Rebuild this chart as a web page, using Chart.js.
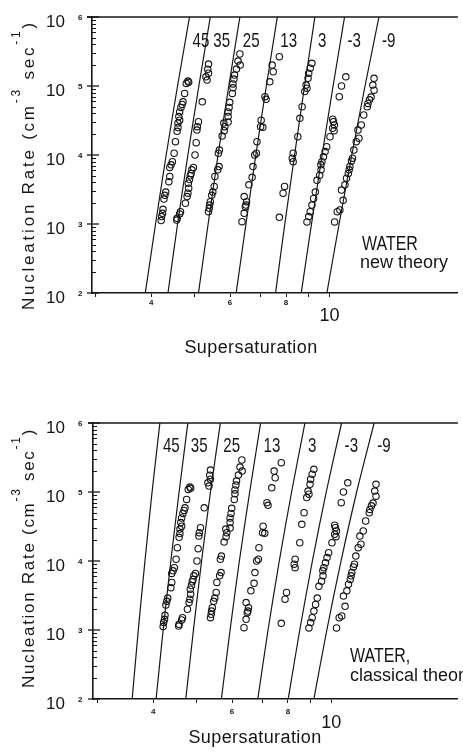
<!DOCTYPE html>
<html><head><meta charset="utf-8">
<script src="https://cdn.jsdelivr.net/npm/chart.js@4.4.1/dist/chart.umd.min.js"></script>
<style>
html,body{margin:0;padding:0;background:#fff;}
#wrap{position:relative;width:463px;height:754px;overflow:hidden;background:#fff;}
canvas{position:absolute;left:0;}
#c1{top:0;} #c2{top:377px;}
</style></head>
<body><div id="wrap"><canvas id="c1" width="463" height="377"></canvas><canvas id="c2" width="463" height="377"></canvas></div>
<script>
// ---------------- data ----------------
const temperatures = ['45','35','25','13','3','-3','-9'];
const rateLevels = [1e2, 1e3, 1e4, 1e5, 1e6];

// supersaturation of the theory curves at each rate level (new theory, top panel)
const newTheory45 = [3.88, 4.09, 4.32, 4.58, 4.87];
const newTheory35 = [4.36, 4.58, 4.83, 5.11, 5.42];
const newTheory25 = [5.10, 5.36, 5.64, 5.96, 6.31];
const newTheory13 = [6.19, 6.51, 6.85, 7.23, 7.65];
const newTheory3  = [7.58, 7.95, 8.36, 8.80, 9.28];
const newTheoryM3 = [8.65, 9.12, 9.63, 10.19, 10.81];
const newTheoryM9 = [9.87, 10.51, 11.22, 12.01, 12.90];

// classical theory (bottom panel)
const classical45 = [3.59, 3.705, 3.834, 3.977, 4.14];
const classical35 = [4.06, 4.21, 4.38, 4.57, 4.78];
const classical25 = [4.73, 4.92, 5.13, 5.37, 5.65];
const classical13 = [5.68, 5.94, 6.23, 6.57, 6.95];
const classical3  = [6.85, 7.22, 7.65, 8.15, 8.73];
const classicalM3 = [8.01, 8.50, 9.07, 9.74, 10.54];
const classicalM9 = [9.14, 9.77, 10.51, 11.39, 12.46];

// measured points [supersaturation, nucleation rate]
const obs45 = [[4.83,1.18e5],[4.79,1.09e5],[4.85,1.13e5],[4.75,7.8e4],[4.71,5.9e4],[4.69,5.4e4],[4.66,4.9e4],[4.63,4.2e4],[4.61,3.6e4],[4.63,3.2e4],[4.59,2.9e4],[4.59,2.5e4],[4.57,2.2e4],[4.53,1.56e4],[4.50,1.06e4],[4.46,8.0e3],[4.43,7.2e3],[4.40,6.6e3],[4.40,4.9e3],[4.38,4.1e3],[4.31,2.9e3],[4.29,2.6e3],[4.27,2.3e3],[4.25,1.63e3],[4.24,1.43e3],[4.22,1.28e3],[4.21,1.12e3]];
const obs35 = [[5.37,2.08e5],[5.35,1.75e5],[5.37,1.53e5],[5.30,1.36e5],[5.33,1.22e5],[5.20,5.9e4],[5.10,3.04e4],[5.07,2.57e4],[5.06,2.30e4],[5.04,1.51e4],[5.01,1.0e4],[4.97,6.6e3],[4.93,6.1e3],[4.91,5.4e3],[4.89,5.0e3],[4.87,4.4e3],[4.84,3.9e3],[4.85,3.3e3],[4.83,2.8e3],[4.81,2.5e3],[4.77,2.0e3],[4.65,1.51e3],[4.63,1.40e3],[4.57,1.21e3],[4.56,1.14e3]];
const obs25 = [[6.31,2.91e5],[6.25,2.30e5],[6.32,2.01e5],[6.20,1.76e5],[6.14,1.44e5],[6.12,1.26e5],[6.09,1.07e5],[6.09,9.4e4],[6.07,7.8e4],[5.99,5.8e4],[5.97,4.9e4],[5.94,4.2e4],[5.94,3.6e4],[5.94,3.0e4],[5.81,2.9e4],[5.84,2.57e4],[5.82,2.25e4],[5.76,1.88e4],[5.68,1.18e4],[5.65,1.06e4],[5.67,6.8e3],[5.63,6.1e3],[5.55,4.9e3],[5.53,3.5e3],[5.49,2.9e3],[5.46,2.6e3],[5.42,2.1e3],[5.40,1.88e3],[5.39,1.69e3],[5.37,1.51e3]];
const obs13 = [[7.73,2.66e5],[7.45,2.01e5],[7.49,1.61e5],[7.36,1.15e5],[7.18,7.0e4],[7.22,6.4e4],[7.04,3.2e4],[7.02,2.57e4],[7.10,2.52e4],[6.89,1.56e4],[6.87,1.06e4],[6.81,1.0e4],[6.75,6.8e3],[6.72,4.75e3],[6.61,3.7e3],[6.45,2.5e3],[6.53,2.1e3],[6.51,1.88e3],[6.49,1.78e3],[6.45,1.43e3],[6.38,1.08e3]];
const obs3 = [[9.14,2.13e5],[9.06,1.81e5],[8.99,1.53e5],[8.96,1.29e5],[8.87,1.03e5],[8.91,9.3e4],[8.81,8.3e4],[8.69,5.0e4],[8.59,3.4e4],[8.50,1.84e4],[8.30,1.06e4],[8.26,9.0e3],[8.30,8.0e3],[7.94,3.5e3],[7.88,2.8e3],[7.73,1.25e3]];
const obsM3 = [[10.88,1.36e5],[10.64,1.0e5],[10.52,7.0e4],[10.17,3.3e4],[10.21,3.04e4],[10.26,2.72e4],[10.17,2.44e4],[10.24,2.25e4],[10.03,1.84e4],[9.86,1.32e4],[9.78,1.12e4],[9.70,9.4e3],[9.62,8.0e3],[9.57,7.2e3],[9.58,6.1e3],[9.51,5.1e3],[9.38,4.3e3],[9.30,2.9e3],[9.22,2.35e3],[9.14,1.88e3],[9.06,1.51e3],[8.99,1.28e3],[8.91,1.07e3]];
const obsM9 = [[12.58,1.29e5],[12.5,1.03e5],[12.58,8.7e4],[12.39,6.9e4],[12.29,6.3e4],[12.19,5.6e4],[12.15,5.0e4],[11.93,3.8e4],[11.78,2.72e4],[11.58,2.30e4],[11.64,1.75e4],[11.48,1.56e4],[11.34,1.18e4],[11.26,9.0e3],[11.20,8.2e3],[11.11,6.8e3],[11.07,6.1e3],[11.02,5.4e3],[10.92,4.6e3],[10.83,3.7e3],[10.64,3.1e3],[10.73,2.2e3],[10.55,1.60e3],[10.41,1.51e3],[10.27,1.07e3]];

const xTickValues = [3, 4, 5, 6, 7, 8, 9, 10];
const xTickLabels = ['', '4', '', '6', '', '8', '', '10'];
const yMajorTicks = [1e2, 1e3, 1e4, 1e5, 1e6];
const yExponents = ['2', '3', '4', '5', '6'];

const newTheoryLines = [newTheory45, newTheory35, newTheory25, newTheory13, newTheory3, newTheoryM3, newTheoryM9];
const classicalLines = [classical45, classical35, classical25, classical13, classical3, classicalM3, classicalM9];
const observations = [obs45, obs35, obs25, obs13, obs3, obsM3, obsM9];

// ---------------- drawing ----------------
const FONT = '"Liberation Sans", Arial, sans-serif';
const INK = '#161616';

function drawText(ctx, txt, x, y, o) {
  ctx.save();
  ctx.font = o.font;
  ctx.fillStyle = INK;
  ctx.textBaseline = o.baseline || 'alphabetic';
  ctx.textAlign = 'left';
  if (o.spacing) ctx.letterSpacing = o.spacing + 'px';
  const sx = o.sx || 1;
  const w = ctx.measureText(txt).width * sx;
  let x0 = x;
  if (o.align === 'right') x0 = x - w; else if (o.align === 'center') x0 = x - w / 2;
  ctx.translate(x0, y);
  ctx.scale(sx, 1);
  ctx.fillText(txt, 0, 0);
  ctx.restore();
}

function makePanel(p) {
  const datasets = [];
  p.lines.forEach((arr, i) => {
    datasets.push({
      data: arr.map((s, k) => ({x: s, y: rateLevels[k]})),
      showLine: true, pointRadius: 0, borderColor: INK, borderWidth: 1.2,
      tension: 0.25, fill: false, order: 1
    });
  });
  observations.forEach(obs => {
    datasets.push({
      data: obs.map(d => ({x: d[0], y: d[1]})),
      showLine: false, pointRadius: 3.2, pointBorderWidth: 1.1,
      pointBorderColor: INK, pointBackgroundColor: 'rgba(255,255,255,0)', order: 0
    });
  });

  const decor = {
    id: 'decor',
    afterDraw(chart) {
      const ctx = chart.ctx;
      const xs = chart.scales.x, ys = chart.scales.y;
      const a = chart.chartArea;
      ctx.save();
      ctx.strokeStyle = INK;
      // top frame line
      ctx.lineWidth = 1.6;
      ctx.beginPath(); ctx.moveTo(a.left - 5, a.top); ctx.lineTo(a.right, a.top); ctx.stroke();
      // y ticks
      ctx.lineWidth = 1;
      for (let d = 2; d < 6; d++) {
        for (let m = 2; m <= 9; m++) {
          const py = Math.round(ys.getPixelForValue(m * Math.pow(10, d))) + 0.5;
          ctx.beginPath(); ctx.moveTo(a.left, py); ctx.lineTo(a.left + 4, py); ctx.stroke();
        }
      }
      ctx.lineWidth = 1.3;
      yMajorTicks.forEach(v => {
        const py = ys.getPixelForValue(v);
        ctx.beginPath(); ctx.moveTo(a.left - 5, py); ctx.lineTo(a.left + 7, py); ctx.stroke();
      });
      ctx.restore();
      // y labels
      yMajorTicks.forEach((v, i) => {
        const py = ys.getPixelForValue(v);
        drawText(ctx, '10', 65, py + 10, {font: '17px ' + FONT, align: 'right'});
        drawText(ctx, yExponents[i], 78, py + 3, {font: 'bold 8px ' + FONT});
      });
      // temperature labels next to the curves
      p.lines.forEach((arr, i) => {
        const px = xs.getPixelForValue(arr[arr.length - 1]) + 3;
        drawText(ctx, temperatures[i], px, p.labelBaseline, {font: '21px ' + FONT, sx: 0.72});
      });
      // x title
      drawText(ctx, 'Supersaturation', p.xTitle[0], p.xTitle[1], {font: '18px ' + FONT, align: 'center', spacing: 0.4});
      // annotation
      drawText(ctx, p.water[2], p.water[0], p.water[1], {font: '21px ' + FONT, sx: 0.76});
      drawText(ctx, p.sub[2], p.sub[0], p.sub[1], {font: '18px ' + FONT});
      // y title (rotated)
      ctx.save();
      ctx.translate(34, p.yTitleC);
      ctx.rotate(-Math.PI / 2);
      const segs = [['Nucleation Rate (cm', 0], ['-3', 1], [' sec', 0], ['-1', 1], [')', 0]];
      const mainFont = '17px ' + FONT, supFont = '12px ' + FONT;
      ctx.fillStyle = INK; ctx.textBaseline = 'alphabetic'; ctx.textAlign = 'left';
      let w0 = 0, n = 0;
      segs.forEach(s => { ctx.font = s[1] ? supFont : mainFont; w0 += ctx.measureText(s[0]).width; n += s[0].length; });
      const sp = (p.yTitleLen - w0) / n;
      ctx.letterSpacing = sp.toFixed(2) + 'px';
      let tot = 0;
      segs.forEach(s => { ctx.font = s[1] ? supFont : mainFont; tot += ctx.measureText(s[0]).width; });
      let cx = -tot / 2;
      segs.forEach(s => {
        ctx.font = s[1] ? supFont : mainFont;
        ctx.fillText(s[0], cx, s[1] ? -14 : 0);
        cx += ctx.measureText(s[0]).width;
      });
      ctx.restore();
    }
  };

  return new Chart(document.getElementById(p.canvas), {
    type: 'scatter',
    data: {datasets},
    options: {
      responsive: false, animation: false, devicePixelRatio: 1, events: [],
      layout: {padding: {top: p.plotTop, left: 0, right: 0, bottom: 0}},
      plugins: {legend: {display: false}, tooltip: {enabled: false}, title: {display: false}},
      scales: {
        x: {
          type: 'logarithmic', position: 'bottom', min: p.xMin, max: p.xMax,
          grid: {display: true, drawOnChartArea: false, drawTicks: true, tickLength: 4, color: INK, lineWidth: 1},
          border: {display: true, color: INK, width: 1.6},
          ticks: {
            autoSkip: false, maxRotation: 0, minRotation: 0, padding: 0, color: INK,
            callback: (v) => { const k = xTickValues.indexOf(v); return k >= 0 ? xTickLabels[k] : ''; },
            font: (c) => (c.tick && c.tick.value === 10)
              ? {family: FONT, size: 18, lineHeight: p.lh10 + 'px'}
              : {family: FONT, size: 8, weight: 'bold', lineHeight: p.lh4 + 'px'}
          },
          afterBuildTicks: (s) => { s.ticks = xTickValues.map(v => ({value: v})); },
          afterFit: (s) => { s.height = p.H - p.plotBottom; }
        },
        y: {
          type: 'logarithmic', position: 'left', min: 1e2, max: 1e6,
          grid: {display: false, drawTicks: false},
          border: {display: true, color: INK, width: 1.6},
          ticks: {display: false},
          afterFit: (s) => { s.width = p.yW; }
        }
      }
    },
    plugins: [decor]
  });
}

makePanel({
  canvas: 'c1', H: 377, plotTop: 17, plotBottom: 293, yW: 92, xMin: 2.950, xMax: 19.36,
  lines: newTheoryLines, labelBaseline: 47, lh4: 12, lh10: 38,
  xTitle: [251, 353], yTitleC: 165, yTitleLen: 290,
  water: [362, 250, 'WATER'], sub: [360, 268, 'new theory']
});
makePanel({
  canvas: 'c2', H: 377, plotTop: 46, plotBottom: 322, yW: 93, xMin: 2.935, xMax: 19.17,
  lines: classicalLines, labelBaseline: 75, lh4: 18, lh10: 41,
  xTitle: [255, 366], yTitleC: 181, yTitleLen: 260,
  water: [350, 285, 'WATER,'], sub: [350, 304, 'classical theory']
});
</script>
</body></html>
